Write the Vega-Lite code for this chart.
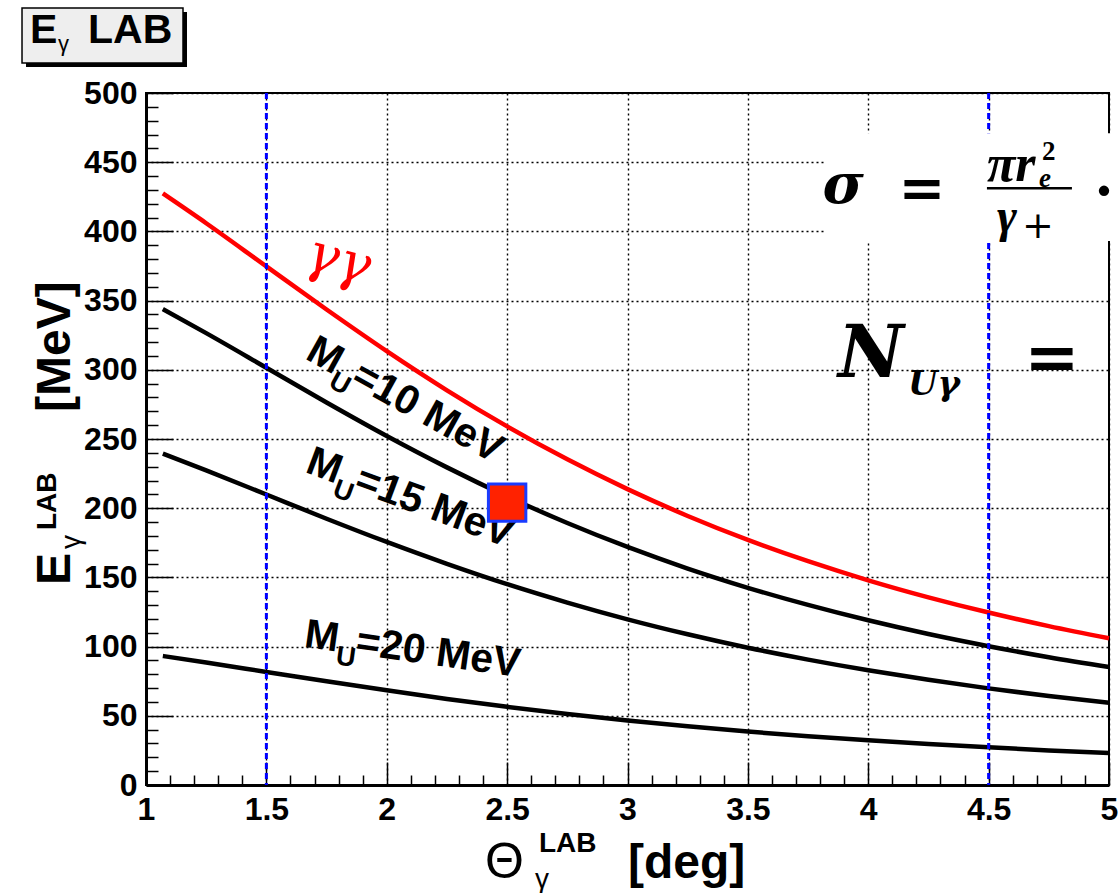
{
 "$schema": "https://vega.github.io/schema/vega-lite/v6.json",
 "width": 963, "height": 692,
 "autosize": {"type": "none"},
 "padding": {"left": 146, "top": 93, "right": 9, "bottom": 108},
 "background": "white",
 "config": {"view": {"stroke": "black", "strokeWidth": 2}},
 "resolve": {"axis": {"x": "independent", "y": "independent"}},
 "layer": [
  {
   "layer": [
    {
     "data": {"values": [
      {"theta": 1.07, "E": 427.4, "s": "gg"}, {"theta": 1.25, "E": 405.9, "s": "gg"}, {"theta": 1.5, "E": 374.7, "s": "gg"}, {"theta": 1.75, "E": 343.6, "s": "gg"}, {"theta": 2.0, "E": 313.5, "s": "gg"}, {"theta": 2.25, "E": 285.2, "s": "gg"}, {"theta": 2.5, "E": 259.1, "s": "gg"}, {"theta": 2.75, "E": 235.3, "s": "gg"}, {"theta": 3.0, "E": 213.8, "s": "gg"}, {"theta": 3.25, "E": 194.4, "s": "gg"}, {"theta": 3.5, "E": 177.1, "s": "gg"}, {"theta": 3.75, "E": 161.7, "s": "gg"}, {"theta": 4.0, "E": 147.9, "s": "gg"}, {"theta": 4.25, "E": 135.6, "s": "gg"}, {"theta": 4.5, "E": 124.6, "s": "gg"}, {"theta": 4.75, "E": 114.8, "s": "gg"}, {"theta": 5.0, "E": 106.0, "s": "gg"},
      {"theta": 1.07, "E": 343.9, "s": "m10"}, {"theta": 1.25, "E": 326.5, "s": "m10"}, {"theta": 1.5, "E": 301.5, "s": "m10"}, {"theta": 1.75, "E": 276.4, "s": "m10"}, {"theta": 2.0, "E": 252.2, "s": "m10"}, {"theta": 2.25, "E": 229.5, "s": "m10"}, {"theta": 2.5, "E": 208.5, "s": "m10"}, {"theta": 2.75, "E": 189.3, "s": "m10"}, {"theta": 3.0, "E": 172.0, "s": "m10"}, {"theta": 3.25, "E": 156.4, "s": "m10"}, {"theta": 3.5, "E": 142.5, "s": "m10"}, {"theta": 3.75, "E": 130.1, "s": "m10"}, {"theta": 4.0, "E": 119.0, "s": "m10"}, {"theta": 4.25, "E": 109.1, "s": "m10"}, {"theta": 4.5, "E": 100.3, "s": "m10"}, {"theta": 4.75, "E": 92.3, "s": "m10"}, {"theta": 5.0, "E": 85.2, "s": "m10"},
      {"theta": 1.07, "E": 239.4, "s": "m15"}, {"theta": 1.25, "E": 227.3, "s": "m15"}, {"theta": 1.5, "E": 209.9, "s": "m15"}, {"theta": 1.75, "E": 192.4, "s": "m15"}, {"theta": 2.0, "E": 175.6, "s": "m15"}, {"theta": 2.25, "E": 159.8, "s": "m15"}, {"theta": 2.5, "E": 145.1, "s": "m15"}, {"theta": 2.75, "E": 131.8, "s": "m15"}, {"theta": 3.0, "E": 119.7, "s": "m15"}, {"theta": 3.25, "E": 108.9, "s": "m15"}, {"theta": 3.5, "E": 99.2, "s": "m15"}, {"theta": 3.75, "E": 90.6, "s": "m15"}, {"theta": 4.0, "E": 82.9, "s": "m15"}, {"theta": 4.25, "E": 76.0, "s": "m15"}, {"theta": 4.5, "E": 69.8, "s": "m15"}, {"theta": 4.75, "E": 64.3, "s": "m15"}, {"theta": 5.0, "E": 59.4, "s": "m15"},
      {"theta": 1.07, "E": 93.2, "s": "m20"}, {"theta": 1.25, "E": 88.5, "s": "m20"}, {"theta": 1.5, "E": 81.7, "s": "m20"}, {"theta": 1.75, "E": 74.9, "s": "m20"}, {"theta": 2.0, "E": 68.4, "s": "m20"}, {"theta": 2.25, "E": 62.2, "s": "m20"}, {"theta": 2.5, "E": 56.5, "s": "m20"}, {"theta": 2.75, "E": 51.3, "s": "m20"}, {"theta": 3.0, "E": 46.6, "s": "m20"}, {"theta": 3.25, "E": 42.4, "s": "m20"}, {"theta": 3.5, "E": 38.6, "s": "m20"}, {"theta": 3.75, "E": 35.3, "s": "m20"}, {"theta": 4.0, "E": 32.3, "s": "m20"}, {"theta": 4.25, "E": 29.6, "s": "m20"}, {"theta": 4.5, "E": 27.2, "s": "m20"}, {"theta": 4.75, "E": 25.0, "s": "m20"}, {"theta": 5.0, "E": 23.1, "s": "m20"}
     ]},
     "mark": {"type": "line", "strokeWidth": 4.5, "interpolate": "monotone"},
     "encoding": {
      "x": {"field": "theta", "type": "quantitative",
       "scale": {"domain": [1, 5], "nice": false, "zero": false},
       "axis": {
        "title": null, "orient": "bottom",
        "values": [1, 1.5, 2, 2.5, 3, 3.5, 4, 4.5, 5],
        "labelExpr": "format(datum.value, '~g')",
        "labelFont": "Liberation Sans", "labelFontWeight": "bold", "labelFontSize": 32, "labelColor": "black",
        "labelPadding": 32, "labelOverlap": false, "labelFlush": false, "labelBound": false,
        "tickColor": "black", "tickWidth": 1.5, "tickSize": -23,
        "domainColor": "black", "domainWidth": 3,
        "grid": true, "gridColor": "black", "gridWidth": 1.4, "gridDash": [2, 3]
       }},
      "y": {"field": "E", "type": "quantitative",
       "scale": {"domain": [0, 500], "nice": false, "zero": false},
       "axis": {
        "title": null, "orient": "left",
        "values": [0, 50, 100, 150, 200, 250, 300, 350, 400, 450, 500],
        "labelExpr": "format(datum.value, 'd')",
        "labelFont": "Liberation Sans", "labelFontWeight": "bold", "labelFontSize": 32, "labelColor": "black",
        "labelPadding": 36, "labelOverlap": false, "labelBound": false, "labelFlush": false,
        "tickColor": "black", "tickWidth": 1.5, "tickSize": -27,
        "domainColor": "black", "domainWidth": 3,
        "grid": true, "gridColor": "black", "gridWidth": 1.4, "gridDash": [2, 3]
       }},
      "color": {"field": "s", "type": "nominal", "scale": {"domain": ["gg", "m10", "m15", "m20"], "range": ["#ff0000", "#000000", "#000000", "#000000"]}, "legend": null}
     }
    },
    {
     "data": {"values": [{"theta": 1.5}, {"theta": 4.5}]},
     "mark": {"type": "rule", "color": "#0000ff", "strokeWidth": 3, "strokeDash": [6, 4]},
     "encoding": {"x": {"field": "theta", "type": "quantitative"}}
    },
    {
     "data": {"values": [{"theta": 3.82, "theta2": 5.04, "E": 393, "E2": 471}]},
     "mark": {"type": "rect", "fill": "white"},
     "encoding": {"x": {"field": "theta", "type": "quantitative"}, "x2": {"field": "theta2"}, "y": {"field": "E", "type": "quantitative"}, "y2": {"field": "E2"}}
    },
    {
     "data": {"values": [{"theta": 3.81, "E": 420.5, "t": "σ"}]},
     "mark": {"type": "text", "align": "left", "baseline": "alphabetic", "font": "DejaVu Serif", "fontWeight": "bold", "fontStyle": "italic", "fontSize": 56, "color": "black"},
     "encoding": {"x": {"field": "theta", "type": "quantitative"}, "y": {"field": "E", "type": "quantitative"}, "text": {"field": "t"}}
    },
    {
     "data": {"values": [{"theta": 4.223, "E": 417.6, "t": "="}]},
     "mark": {"type": "text", "align": "center", "baseline": "alphabetic", "font": "DejaVu Serif", "fontWeight": "bold", "fontSize": 56, "color": "black"},
     "encoding": {"x": {"field": "theta", "type": "quantitative"}, "y": {"field": "E", "type": "quantitative"}, "text": {"field": "t"}}
    },
    {
     "data": {"values": [{"theta": 4.493, "E": 436.5, "t": "πr"}]},
     "mark": {"type": "text", "align": "left", "baseline": "alphabetic", "font": "Liberation Serif", "fontWeight": "bold", "fontStyle": "italic", "fontSize": 52, "color": "black"},
     "encoding": {"x": {"field": "theta", "type": "quantitative"}, "y": {"field": "E", "type": "quantitative"}, "text": {"field": "t"}}
    },
    {
     "data": {"values": [{"theta": 4.493, "E": 436.5, "t": "e"}]},
     "mark": {"type": "text", "align": "left", "baseline": "alphabetic", "dx": 52, "dy": 6, "font": "Liberation Serif", "fontWeight": "bold", "fontStyle": "italic", "fontSize": 27, "color": "black"},
     "encoding": {"x": {"field": "theta", "type": "quantitative"}, "y": {"field": "E", "type": "quantitative"}, "text": {"field": "t"}}
    },
    {
     "data": {"values": [{"theta": 4.493, "E": 436.5, "t": "2"}]},
     "mark": {"type": "text", "align": "left", "baseline": "alphabetic", "dx": 55, "dy": -21, "font": "Liberation Serif", "fontWeight": "bold", "fontSize": 27, "color": "black"},
     "encoding": {"x": {"field": "theta", "type": "quantitative"}, "y": {"field": "E", "type": "quantitative"}, "text": {"field": "t"}}
    },
    {
     "data": {"values": [{"theta": 4.493, "theta2": 4.846, "E": 431.1}]},
     "mark": {"type": "rule", "color": "black", "strokeWidth": 2.5},
     "encoding": {"x": {"field": "theta", "type": "quantitative"}, "x2": {"field": "theta2"}, "y": {"field": "E", "type": "quantitative"}}
    },
    {
     "data": {"values": [{"theta": 4.535, "E": 399.6, "t": "γ"}]},
     "mark": {"type": "text", "align": "left", "baseline": "alphabetic", "font": "Liberation Serif", "fontWeight": "bold", "fontStyle": "italic", "fontSize": 48, "color": "black"},
     "encoding": {"x": {"field": "theta", "type": "quantitative"}, "y": {"field": "E", "type": "quantitative"}, "text": {"field": "t"}}
    },
    {
     "data": {"values": [{"theta": 4.535, "E": 399.6, "t": "+"}]},
     "mark": {"type": "text", "align": "left", "baseline": "alphabetic", "dx": 25, "dy": 6, "font": "DejaVu Serif", "fontSize": 38, "color": "black"},
     "encoding": {"x": {"field": "theta", "type": "quantitative"}, "y": {"field": "E", "type": "quantitative"}, "text": {"field": "t"}}
    },
    {
     "data": {"values": [{"theta": 4.979, "E": 415.5, "t": "·"}]},
     "mark": {"type": "text", "align": "center", "baseline": "alphabetic", "font": "DejaVu Serif", "fontWeight": "bold", "fontSize": 56, "color": "black"},
     "encoding": {"x": {"field": "theta", "type": "quantitative"}, "y": {"field": "E", "type": "quantitative"}, "text": {"field": "t"}}
    },
    {
     "data": {"values": [{"theta": 3.874, "E": 294.8, "t": "N"}]},
     "mark": {"type": "text", "align": "left", "baseline": "alphabetic", "font": "DejaVu Serif", "fontWeight": "bold", "fontStyle": "italic", "fontSize": 72, "color": "black"},
     "encoding": {"x": {"field": "theta", "type": "quantitative"}, "y": {"field": "E", "type": "quantitative"}, "text": {"field": "t"}}
    },
    {
     "data": {"values": [{"theta": 3.874, "E": 294.8, "t": "Uγ"}]},
     "mark": {"type": "text", "align": "left", "baseline": "alphabetic", "dx": 70, "dy": 18, "font": "DejaVu Serif", "fontWeight": "bold", "fontStyle": "italic", "fontSize": 34, "color": "black"},
     "encoding": {"x": {"field": "theta", "type": "quantitative"}, "y": {"field": "E", "type": "quantitative"}, "text": {"field": "t"}}
    },
    {
     "data": {"values": [{"theta": 4.763, "E": 292.6, "t": "="}]},
     "mark": {"type": "text", "align": "center", "baseline": "alphabetic", "font": "DejaVu Serif", "fontWeight": "bold", "fontSize": 66, "color": "black"},
     "encoding": {"x": {"field": "theta", "type": "quantitative"}, "y": {"field": "E", "type": "quantitative"}, "text": {"field": "t"}}
    },
    {
     "data": {"values": [{"theta": 1.652, "E": 373.6, "t": "γγ"}]},
     "mark": {"type": "text", "align": "left", "baseline": "alphabetic", "angle": 15, "font": "DejaVu Serif", "fontStyle": "italic", "fontSize": 54, "color": "#ff0000"},
     "encoding": {"x": {"field": "theta", "type": "quantitative"}, "y": {"field": "E", "type": "quantitative"}, "text": {"field": "t"}}
    },
    {
     "data": {"values": [{"theta": 1.656, "E": 308.3, "t": "M"}]},
     "mark": {"type": "text", "align": "left", "baseline": "alphabetic", "angle": 29, "font": "Liberation Sans", "fontWeight": "bold", "fontSize": 41, "color": "black"},
     "encoding": {"x": {"field": "theta", "type": "quantitative"}, "y": {"field": "E", "type": "quantitative"}, "text": {"field": "t"}}
    },
    {
     "data": {"values": [{"theta": 1.656, "E": 308.3, "t": "U"}]},
     "mark": {"type": "text", "align": "left", "baseline": "alphabetic", "angle": 29, "dx": 34, "dy": 13, "font": "Liberation Sans", "fontWeight": "bold", "fontSize": 27, "color": "black"},
     "encoding": {"x": {"field": "theta", "type": "quantitative"}, "y": {"field": "E", "type": "quantitative"}, "text": {"field": "t"}}
    },
    {
     "data": {"values": [{"theta": 1.656, "E": 308.3, "t": "=10 MeV"}]},
     "mark": {"type": "text", "align": "left", "baseline": "alphabetic", "angle": 29, "dx": 52, "font": "Liberation Sans", "fontWeight": "bold", "fontSize": 41, "color": "black"},
     "encoding": {"x": {"field": "theta", "type": "quantitative"}, "y": {"field": "E", "type": "quantitative"}, "text": {"field": "t"}}
    },
    {
     "data": {"values": [{"theta": 1.656, "E": 226.4, "t": "M"}]},
     "mark": {"type": "text", "align": "left", "baseline": "alphabetic", "angle": 20.5, "font": "Liberation Sans", "fontWeight": "bold", "fontSize": 41, "color": "black"},
     "encoding": {"x": {"field": "theta", "type": "quantitative"}, "y": {"field": "E", "type": "quantitative"}, "text": {"field": "t"}}
    },
    {
     "data": {"values": [{"theta": 1.656, "E": 226.4, "t": "U"}]},
     "mark": {"type": "text", "align": "left", "baseline": "alphabetic", "angle": 20.5, "dx": 34, "dy": 13, "font": "Liberation Sans", "fontWeight": "bold", "fontSize": 27, "color": "black"},
     "encoding": {"x": {"field": "theta", "type": "quantitative"}, "y": {"field": "E", "type": "quantitative"}, "text": {"field": "t"}}
    },
    {
     "data": {"values": [{"theta": 1.656, "E": 226.4, "t": "=15 MeV"}]},
     "mark": {"type": "text", "align": "left", "baseline": "alphabetic", "angle": 20.5, "dx": 52, "font": "Liberation Sans", "fontWeight": "bold", "fontSize": 41, "color": "black"},
     "encoding": {"x": {"field": "theta", "type": "quantitative"}, "y": {"field": "E", "type": "quantitative"}, "text": {"field": "t"}}
    },
    {
     "data": {"values": [{"theta": 1.653, "E": 99.9, "t": "M"}]},
     "mark": {"type": "text", "align": "left", "baseline": "alphabetic", "angle": 8, "font": "Liberation Sans", "fontWeight": "bold", "fontSize": 41, "color": "black"},
     "encoding": {"x": {"field": "theta", "type": "quantitative"}, "y": {"field": "E", "type": "quantitative"}, "text": {"field": "t"}}
    },
    {
     "data": {"values": [{"theta": 1.653, "E": 99.9, "t": "U"}]},
     "mark": {"type": "text", "align": "left", "baseline": "alphabetic", "angle": 8, "dx": 34, "dy": 13, "font": "Liberation Sans", "fontWeight": "bold", "fontSize": 27, "color": "black"},
     "encoding": {"x": {"field": "theta", "type": "quantitative"}, "y": {"field": "E", "type": "quantitative"}, "text": {"field": "t"}}
    },
    {
     "data": {"values": [{"theta": 1.653, "E": 99.9, "t": "=20 MeV"}]},
     "mark": {"type": "text", "align": "left", "baseline": "alphabetic", "angle": 8, "dx": 52, "font": "Liberation Sans", "fontWeight": "bold", "fontSize": 41, "color": "black"},
     "encoding": {"x": {"field": "theta", "type": "quantitative"}, "y": {"field": "E", "type": "quantitative"}, "text": {"field": "t"}}
    },
    {
     "data": {"values": [{"theta": 0.5016, "theta2": 1.1703, "E": 518.8, "E2": 558.5}]},
     "mark": {"type": "rect", "fill": "black"},
     "encoding": {"x": {"field": "theta", "type": "quantitative"}, "x2": {"field": "theta2"}, "y": {"field": "E", "type": "quantitative"}, "y2": {"field": "E2"}}
    },
    {
     "data": {"values": [{"theta": 0.485, "theta2": 1.1537, "E": 521.7, "E2": 561.4}]},
     "mark": {"type": "rect", "fill": "#eeeeee", "stroke": "black", "strokeWidth": 1.5},
     "encoding": {"x": {"field": "theta", "type": "quantitative"}, "x2": {"field": "theta2"}, "y": {"field": "E", "type": "quantitative"}, "y2": {"field": "E2"}}
    },
    {
     "data": {"values": [{"theta": 0.5182, "E": 536.1, "t": "E"}]},
     "mark": {"type": "text", "align": "left", "baseline": "alphabetic", "font": "Liberation Sans", "fontWeight": "bold", "fontSize": 41, "color": "black"},
     "encoding": {"x": {"field": "theta", "type": "quantitative"}, "y": {"field": "E", "type": "quantitative"}, "text": {"field": "t"}}
    },
    {
     "data": {"values": [{"theta": 0.5182, "E": 536.1, "t": "γ"}]},
     "mark": {"type": "text", "align": "left", "baseline": "alphabetic", "dx": 28, "dy": 8, "font": "Liberation Sans", "fontSize": 22, "color": "black"},
     "encoding": {"x": {"field": "theta", "type": "quantitative"}, "y": {"field": "E", "type": "quantitative"}, "text": {"field": "t"}}
    },
    {
     "data": {"values": [{"theta": 0.5182, "E": 536.1, "t": "LAB"}]},
     "mark": {"type": "text", "align": "left", "baseline": "alphabetic", "dx": 58, "font": "Liberation Sans", "fontWeight": "bold", "fontSize": 41, "color": "black"},
     "encoding": {"x": {"field": "theta", "type": "quantitative"}, "y": {"field": "E", "type": "quantitative"}, "text": {"field": "t"}}
    },
    {
     "data": {"values": [{"theta": 2.408, "E": -67.2, "t": "Θ"}]},
     "mark": {"type": "text", "align": "left", "baseline": "alphabetic", "font": "Liberation Sans", "fontSize": 50, "color": "black"},
     "encoding": {"x": {"field": "theta", "type": "quantitative"}, "y": {"field": "E", "type": "quantitative"}, "text": {"field": "t"}}
    },
    {
     "data": {"values": [{"theta": 2.408, "E": -67.2, "t": "LAB"}]},
     "mark": {"type": "text", "align": "left", "baseline": "alphabetic", "dx": 54, "dy": -26, "font": "Liberation Sans", "fontWeight": "bold", "fontSize": 28, "color": "black"},
     "encoding": {"x": {"field": "theta", "type": "quantitative"}, "y": {"field": "E", "type": "quantitative"}, "text": {"field": "t"}}
    },
    {
     "data": {"values": [{"theta": 2.408, "E": -67.2, "t": "γ"}]},
     "mark": {"type": "text", "align": "left", "baseline": "alphabetic", "dx": 50, "dy": 10, "font": "Liberation Sans", "fontSize": 28, "color": "black"},
     "encoding": {"x": {"field": "theta", "type": "quantitative"}, "y": {"field": "E", "type": "quantitative"}, "text": {"field": "t"}}
    },
    {
     "data": {"values": [{"theta": 2.408, "E": -67.2, "t": "[deg]"}]},
     "mark": {"type": "text", "align": "left", "baseline": "alphabetic", "dx": 143, "font": "Liberation Sans", "fontWeight": "bold", "fontSize": 48, "color": "black"},
     "encoding": {"x": {"field": "theta", "type": "quantitative"}, "y": {"field": "E", "type": "quantitative"}, "text": {"field": "t"}}
    },
    {
     "data": {"values": [{"theta": 0.6843, "E": 144.5, "t": "E"}]},
     "mark": {"type": "text", "align": "left", "baseline": "alphabetic", "angle": -90, "font": "Liberation Sans", "fontWeight": "bold", "fontSize": 48, "color": "black"},
     "encoding": {"x": {"field": "theta", "type": "quantitative"}, "y": {"field": "E", "type": "quantitative"}, "text": {"field": "t"}}
    },
    {
     "data": {"values": [{"theta": 0.6843, "E": 144.5, "t": "γ"}]},
     "mark": {"type": "text", "align": "left", "baseline": "alphabetic", "angle": -90, "dx": 36, "dy": 10, "font": "Liberation Sans", "fontSize": 28, "color": "black"},
     "encoding": {"x": {"field": "theta", "type": "quantitative"}, "y": {"field": "E", "type": "quantitative"}, "text": {"field": "t"}}
    },
    {
     "data": {"values": [{"theta": 0.6843, "E": 144.5, "t": "LAB"}]},
     "mark": {"type": "text", "align": "left", "baseline": "alphabetic", "angle": -90, "dx": 55, "dy": -14, "font": "Liberation Sans", "fontWeight": "bold", "fontSize": 28, "color": "black"},
     "encoding": {"x": {"field": "theta", "type": "quantitative"}, "y": {"field": "E", "type": "quantitative"}, "text": {"field": "t"}}
    },
    {
     "data": {"values": [{"theta": 0.6843, "E": 144.5, "t": "[MeV]"}]},
     "mark": {"type": "text", "align": "left", "baseline": "alphabetic", "angle": -90, "dx": 173, "font": "Liberation Sans", "fontWeight": "bold", "fontSize": 48, "color": "black"},
     "encoding": {"x": {"field": "theta", "type": "quantitative"}, "y": {"field": "E", "type": "quantitative"}, "text": {"field": "t"}}
    }
   ]
  },
  {
   "data": {"values": [{"theta": 2.5, "E": 204}]},
   "mark": {"type": "square", "size": 1400, "filled": true, "fill": "#ff2200", "stroke": "#1a3cff", "strokeWidth": 3, "opacity": 1},
   "encoding": {
    "x": {"field": "theta", "type": "quantitative",
     "axis": {"orient": "bottom", "title": null, "labels": false, "grid": false, "domain": false,
      "values": [1.1,1.2,1.3,1.4,1.6,1.7,1.8,1.9,2.1,2.2,2.3,2.4,2.6,2.7,2.8,2.9,3.1,3.2,3.3,3.4,3.6,3.7,3.8,3.9,4.1,4.2,4.3,4.4,4.6,4.7,4.8,4.9],
      "tickColor": "black", "tickWidth": 1.5, "tickSize": -10}},
    "y": {"field": "E", "type": "quantitative",
     "axis": {"orient": "left", "title": null, "labels": false, "grid": false, "domain": false,
      "values": [10,20,30,40,60,70,80,90,110,120,130,140,160,170,180,190,210,220,230,240,260,270,280,290,310,320,330,340,360,370,380,390,410,420,430,440,460,470,480,490],
      "tickColor": "black", "tickWidth": 1.5, "tickSize": -12}}
   }
  }
 ]
}
